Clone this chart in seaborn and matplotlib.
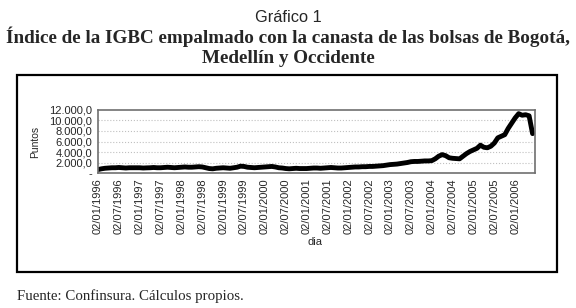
import numpy as np
import pandas as pd
import matplotlib.pyplot as plt
import seaborn as sns
from matplotlib.patches import Rectangle

# ------------------------
# Data: monthly readings of the IGBC index (Jan 1996 - Jun 2006)
# ------------------------
igbc_1996 = [650, 800, 900, 950, 1000, 1000, 1050, 1000, 950, 1000, 1000, 1000]
igbc_1997 = [1000, 950, 980, 1000, 1050, 1000, 1000, 1050, 1100, 1050, 1000, 1050]
igbc_1998 = [1100, 1150, 1100, 1100, 1150, 1200, 1150, 1000, 850, 800, 900, 950]
igbc_1999 = [1000, 950, 900, 1000, 1100, 1300, 1250, 1100, 1050, 1000, 1050, 1100]
igbc_2000 = [1150, 1200, 1250, 1150, 1000, 950, 850, 800, 850, 900, 850, 850]
igbc_2001 = [850, 900, 950, 950, 900, 950, 1000, 1050, 1000, 950, 950, 1000]
igbc_2002 = [1050, 1100, 1150, 1150, 1200, 1200, 1250, 1250, 1300, 1350, 1400, 1500]
igbc_2003 = [1600, 1650, 1700, 1800, 1900, 2000, 2150, 2200, 2200, 2250, 2300, 2300]
igbc_2004 = [2350, 2700, 3200, 3500, 3300, 2900, 2800, 2750, 2700, 3200, 3700, 4100]
igbc_2005 = [4400, 4700, 5300, 4900, 4800, 5100, 5700, 6700, 7000, 7300, 8500, 9500]
igbc_2006 = [10500, 11300, 11000, 11100, 10900, 7500]

tick_labels = [
    "02/01/1996", "02/07/1996", "02/01/1997", "02/07/1997", "02/01/1998",
    "02/07/1998", "02/01/1999", "02/07/1999", "02/01/2000", "02/07/2000",
    "02/01/2001", "02/07/2001", "02/01/2002", "02/07/2002", "02/01/2003",
    "02/07/2003", "02/01/2004", "02/07/2004", "02/01/2005", "02/07/2005",
    "02/01/2006",
]
y_ticks = [0, 2000, 4000, 6000, 8000, 10000, 12000]
y_tick_labels = ["-", "2.000,0", "4.000,0", "6.000,0", "8.000,0", "10.000,0", "12.000,0"]

values = (igbc_1996 + igbc_1997 + igbc_1998 + igbc_1999 + igbc_2000 + igbc_2001
          + igbc_2002 + igbc_2003 + igbc_2004 + igbc_2005 + igbc_2006)
df = pd.DataFrame({"mes": np.arange(len(values)), "puntos": values})

# ------------------------
# Plot
# ------------------------
sns.set_style("white")
plt.rcParams["font.family"] = ["Liberation Sans", "DejaVu Sans"]
serif = ["Liberation Serif", "DejaVu Serif"]

fig = plt.figure(figsize=(5.76, 3.08), dpi=100)
ax = fig.add_axes([98 / 576, 1 - 173 / 308, 437 / 576, 63 / 308])

sns.lineplot(data=df, x="mes", y="puntos", color="black", linewidth=3.5, ax=ax)

ax.set_xlim(0, 125.7)
ax.set_ylim(0, 12000)
ax.set_xticks(np.arange(0, 6 * len(tick_labels), 6))
ax.set_xticklabels(tick_labels, rotation=90, fontsize=8)
ax.set_yticks(y_ticks)
ax.set_yticklabels(y_tick_labels, fontsize=8)
ax.tick_params(axis="both", direction="out", length=3, width=0.8, color="#707070", pad=1)

for v in y_ticks[1:-1]:
    ax.axhline(v, color="#c0c0c0", linestyle=":", linewidth=0.8, zorder=0)

for s in ax.spines.values():
    s.set_color("#707070")
    s.set_linewidth(1.2)

ax.set_xlabel("dia", fontsize=8)
ax.xaxis.label.set_va("center")
ax.xaxis.set_label_coords(0.497, -1.095)
ax.set_ylabel("Puntos", fontsize=7.5)
ax.yaxis.label.set_va("center")
ax.yaxis.set_label_coords(-0.144, 0.49)

# outer frame around the chart
fig.patches.append(Rectangle((17 / 576, 1 - 272 / 308), 540 / 576, 197 / 308,
                             transform=fig.transFigure, fill=False,
                             edgecolor="black", linewidth=1.6))

fig.text(0.5, 1 - 22 / 308, "Gráfico 1", ha="center", va="baseline", fontsize=11.8)
fig.text(0.5, 1 - 43 / 308, "Índice de la IGBC empalmado con la canasta de las bolsas de Bogotá,",
         ha="center", va="baseline", fontsize=13.8, fontweight="bold", family=serif)
fig.text(0.5, 1 - 63 / 308, "Medellín y Occidente", ha="center", va="baseline",
         fontsize=13.8, fontweight="bold", family=serif)
fig.text(17 / 576, 1 - 300 / 308, "Fuente: Confinsura. Cálculos propios.", ha="left",
         va="baseline", fontsize=10.7, family=serif)

plt.savefig("out.png", dpi=100)
